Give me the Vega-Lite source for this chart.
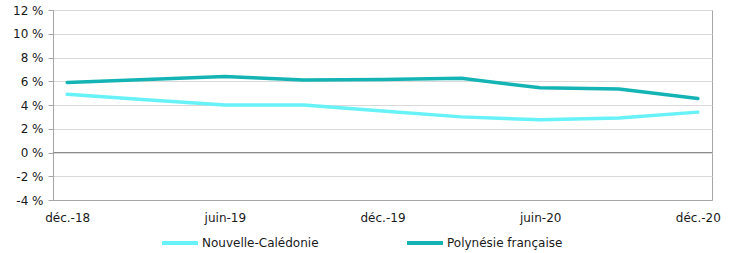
{
  "$schema": "https://vega.github.io/schema/vega-lite/v6.json",
  "width": 659,
  "height": 190,
  "autosize": "none",
  "padding": {"left": 53, "top": 10, "right": 24, "bottom": 53},
  "config": {
    "font": "DejaVu Sans",
    "view": {"stroke": "#a6a6a6", "strokeWidth": 1},
    "axis": {"labelFont": "DejaVu Sans", "labelFontSize": 12, "labelColor": "#1a1a1a", "domainColor": "#a6a6a6", "tickColor": "#a6a6a6", "gridColor": "#d9d9d9"},
    "legend": {"labelFont": "DejaVu Sans", "labelFontSize": 12, "labelColor": "#1a1a1a"}
  },
  "data": {
    "values": [
      {"date": "déc.-18", "series": "Nouvelle-Calédonie", "value": 4.9},
      {"date": "mars-19", "series": "Nouvelle-Calédonie", "value": 4.45},
      {"date": "juin-19", "series": "Nouvelle-Calédonie", "value": 4.0},
      {"date": "sept.-19", "series": "Nouvelle-Calédonie", "value": 4.0},
      {"date": "déc.-19", "series": "Nouvelle-Calédonie", "value": 3.5},
      {"date": "mars-20", "series": "Nouvelle-Calédonie", "value": 3.0},
      {"date": "juin-20", "series": "Nouvelle-Calédonie", "value": 2.75},
      {"date": "sept.-20", "series": "Nouvelle-Calédonie", "value": 2.9},
      {"date": "déc.-20", "series": "Nouvelle-Calédonie", "value": 3.4},
      {"date": "déc.-18", "series": "Polynésie française", "value": 5.9},
      {"date": "mars-19", "series": "Polynésie française", "value": 6.15},
      {"date": "juin-19", "series": "Polynésie française", "value": 6.4},
      {"date": "sept.-19", "series": "Polynésie française", "value": 6.1},
      {"date": "déc.-19", "series": "Polynésie française", "value": 6.15},
      {"date": "mars-20", "series": "Polynésie française", "value": 6.25},
      {"date": "juin-20", "series": "Polynésie française", "value": 5.45},
      {"date": "sept.-20", "series": "Polynésie française", "value": 5.35},
      {"date": "déc.-20", "series": "Polynésie française", "value": 4.55}
    ]
  },
  "layer": [
    {
      "mark": {"type": "rule", "color": "#8c8c8c", "strokeWidth": 1},
      "encoding": {
        "y": {
          "datum": 0,
          "type": "quantitative",
          "scale": {"domain": [-4, 12], "nice": false, "zero": false},
          "axis": {"title": null, "values": [-4, -2, 0, 2, 4, 6, 8, 10, 12], "labelExpr": "datum.value + ' %'", "tickSize": 5, "labelPadding": 5, "grid": true, "labelOverlap": false, "labelBound": false}
        }
      }
    },
    {
      "mark": {"type": "line", "strokeWidth": 3.5, "strokeCap": "round", "strokeJoin": "round"},
      "encoding": {
        "x": {
          "field": "date",
          "type": "ordinal",
          "sort": ["déc.-18", "mars-19", "juin-19", "sept.-19", "déc.-19", "mars-20", "juin-20", "sept.-20", "déc.-20"],
          "scale": {"type": "point", "padding": 0.18},
          "axis": {"title": null, "values": ["déc.-18", "juin-19", "déc.-19", "juin-20", "déc.-20"], "ticks": false, "labelAngle": 0, "labelPadding": 12, "grid": false, "domainColor": "#a6a6a6", "labelOverlap": false}
        },
        "y": {
          "field": "value",
          "type": "quantitative",
          "scale": {"domain": [-4, 12], "nice": false, "zero": false},
          "axis": {"title": null, "values": [-4, -2, 0, 2, 4, 6, 8, 10, 12], "labelExpr": "datum.value + ' %'", "tickSize": 5, "labelPadding": 5, "grid": true, "labelOverlap": false, "labelBound": false}
        },
        "color": {
          "field": "series",
          "type": "nominal",
          "scale": {"domain": ["Nouvelle-Calédonie", "Polynésie française"], "range": ["#66F2F7", "#14B4B4"]},
          "legend": {"title": null, "orient": "none", "legendX": 107, "legendY": 213, "direction": "horizontal", "symbolType": "stroke", "symbolSize": 1296, "symbolStrokeWidth": 4, "labelOffset": 2, "columnPadding": 80}
        }
      }
    }
  ]
}
